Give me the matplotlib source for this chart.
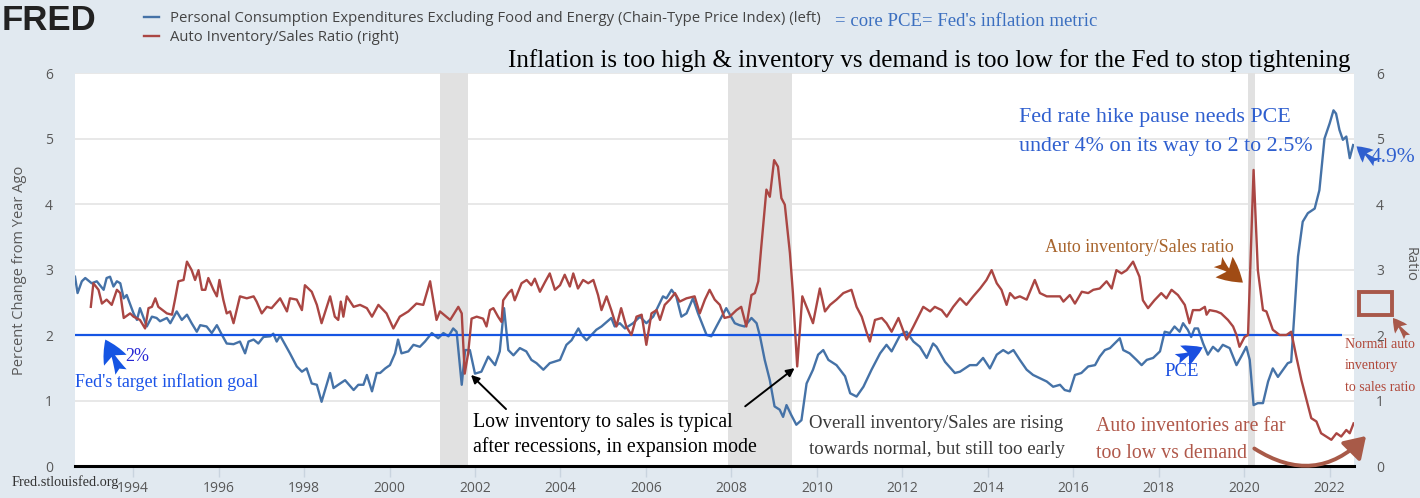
import numpy as np
import matplotlib.pyplot as plt
from matplotlib.patches import Rectangle, FancyArrowPatch

W, H = 1420, 498

# core PCE, % change from a year ago (left axis)
pce_year = [1992.64, 1992.70, 1992.80, 1992.88, 1993.03, 1993.15, 1993.31, 1993.38, 1993.46, 1993.54,
            1993.62, 1993.70, 1993.78, 1993.85, 1994.01, 1994.09, 1994.16, 1994.32, 1994.44, 1994.55,
            1994.63, 1994.79, 1994.87, 1995.02, 1995.14, 1995.26, 1995.37, 1995.49, 1995.57, 1995.72,
            1995.84, 1995.96, 1996.08, 1996.19, 1996.35, 1996.50, 1996.62, 1996.70, 1996.82, 1996.93,
            1997.05, 1997.21, 1997.28, 1997.36, 1997.44, 1997.67, 1997.83, 1997.95, 1998.06, 1998.18,
            1998.30, 1998.41, 1998.61, 1998.69, 1998.80, 1998.96, 1999.16, 1999.27, 1999.39, 1999.47,
            1999.59, 1999.70, 1999.78, 1999.90, 2000.01, 2000.13, 2000.20, 2000.28, 2000.44, 2000.56,
            2000.71, 2000.83, 2000.99, 2001.14, 2001.26, 2001.38, 2001.49, 2001.57, 2001.69, 2001.77,
            2001.88, 2002.00, 2002.15, 2002.31, 2002.47, 2002.58, 2002.68, 2002.78, 2002.90, 2003.05,
            2003.20, 2003.32, 2003.44, 2003.60, 2003.75, 2003.99, 2004.14, 2004.26, 2004.42, 2004.50,
            2004.61, 2004.84, 2004.96, 2005.19, 2005.27, 2005.39, 2005.51, 2005.70, 2005.86, 2006.01,
            2006.17, 2006.40, 2006.48, 2006.60, 2006.71, 2006.83, 2006.95, 2007.10, 2007.22, 2007.42,
            2007.53, 2007.65, 2007.88, 2008.08, 2008.19, 2008.31, 2008.47, 2008.59, 2008.67, 2008.78,
            2008.90, 2009.01, 2009.13, 2009.21, 2009.29, 2009.40, 2009.52, 2009.64, 2009.76, 2009.91,
            2010.03, 2010.15, 2010.27, 2010.46, 2010.66, 2010.78, 2010.93, 2011.09, 2011.28, 2011.48,
            2011.63, 2011.75, 2011.95, 2012.10, 2012.26, 2012.41, 2012.57, 2012.72, 2012.80, 2013.00,
            2013.23, 2013.35, 2013.58, 2013.74, 2013.89, 2014.05, 2014.21, 2014.36, 2014.48, 2014.60,
            2014.75, 2014.91, 2015.06, 2015.22, 2015.38, 2015.53, 2015.69, 2015.80, 2015.92, 2016.04,
            2016.19, 2016.35, 2016.51, 2016.62, 2016.74, 2016.86, 2017.09, 2017.17, 2017.32, 2017.48,
            2017.60, 2017.72, 2017.87, 2018.03, 2018.14, 2018.26, 2018.37, 2018.49, 2018.57, 2018.68,
            2018.76, 2018.84, 2018.92, 2019.04, 2019.15, 2019.27, 2019.39, 2019.50, 2019.66, 2019.82,
            2019.93, 2020.05, 2020.13, 2020.22, 2020.32, 2020.44, 2020.56, 2020.67, 2020.79, 2020.91,
            2021.02, 2021.10, 2021.18, 2021.26, 2021.37, 2021.49, 2021.65, 2021.76, 2021.88, 2022.00,
            2022.09, 2022.15, 2022.23, 2022.31, 2022.39, 2022.47, 2022.55]
pce_val = [2.89, 2.64, 2.82, 2.87, 2.79, 2.82, 2.69, 2.87, 2.89, 2.74,
           2.82, 2.79, 2.56, 2.61, 2.33, 2.23, 2.41, 2.13, 2.28, 2.26,
           2.21, 2.26, 2.18, 2.36, 2.23, 2.31, 2.18, 2.05, 2.15, 2.13,
           2.03, 2.15, 2.00, 1.87, 1.86, 1.90, 1.72, 1.90, 1.93, 1.87,
           1.97, 1.98, 2.02, 1.90, 1.99, 1.72, 1.52, 1.44, 1.49, 1.26,
           1.24, 0.98, 1.42, 1.19, 1.24, 1.31, 1.16, 1.24, 1.24, 1.39,
           1.14, 1.42, 1.42, 1.49, 1.54, 1.72, 1.93, 1.72, 1.75, 1.85,
           1.82, 1.90, 2.03, 1.95, 2.03, 1.98, 2.10, 2.05, 1.24, 1.77,
           1.77, 1.41, 1.44, 1.67, 1.54, 1.75, 2.41, 1.77, 1.69, 1.80,
           1.75, 1.62, 1.57, 1.47, 1.57, 1.62, 1.85, 1.92, 2.10, 2.00,
           1.92, 2.08, 2.13, 2.26, 2.13, 2.18, 2.10, 2.18, 2.28, 2.18,
           2.28, 2.59, 2.56, 2.69, 2.59, 2.28, 2.33, 2.56, 2.33, 2.00,
           1.98, 2.13, 2.41, 2.18, 2.15, 2.13, 2.26, 2.18, 1.98, 1.62,
           1.31, 0.91, 0.86, 0.75, 0.93, 0.78, 0.63, 0.70, 1.26, 1.47,
           1.70, 1.77, 1.62, 1.54, 1.37, 1.11, 1.06, 1.21, 1.47, 1.72,
           1.85, 1.75, 2.00, 2.05, 1.90, 1.82, 1.65, 1.87, 1.82, 1.59,
           1.42, 1.44, 1.54, 1.54, 1.65, 1.49, 1.70, 1.77, 1.72, 1.77,
           1.62, 1.47, 1.39, 1.34, 1.29, 1.21, 1.24, 1.16, 1.14, 1.39,
           1.42, 1.52, 1.54, 1.67, 1.77, 1.80, 1.95, 1.77, 1.72, 1.62,
           1.54, 1.62, 1.65, 1.75, 2.05, 2.03, 2.13, 2.05, 2.18, 2.08,
           1.97, 2.10, 2.10, 1.87, 1.70, 1.82, 1.75, 1.85, 1.80, 1.54,
           1.67, 1.82, 1.62, 0.93, 0.96, 0.96, 1.29, 1.49, 1.36, 1.47,
           1.57, 1.59, 2.38, 3.20, 3.73, 3.86, 3.93, 4.21, 5.00, 5.23,
           5.43, 5.38, 5.13, 4.98, 5.03, 4.70, 4.90]

# auto inventory/sales ratio (right axis)
inv_year = [1993.01, 1993.07, 1993.19, 1993.27, 1993.38, 1993.50, 1993.62, 1993.70, 1993.78, 1993.93,
            1994.01, 1994.16, 1994.28, 1994.36, 1994.44, 1994.52, 1994.59, 1994.79, 1994.91, 1994.98,
            1995.06, 1995.18, 1995.26, 1995.37, 1995.45, 1995.53, 1995.61, 1995.69, 1995.76, 1995.88,
            1995.96, 1996.02, 1996.11, 1996.19, 1996.27, 1996.35, 1996.50, 1996.66, 1996.82, 1996.89,
            1997.01, 1997.13, 1997.24, 1997.44, 1997.60, 1997.67, 1997.83, 1997.95, 1998.02, 1998.18,
            1998.30, 1998.41, 1998.61, 1998.72, 1998.80, 1998.86, 1998.92, 1999.00, 1999.16, 1999.31,
            1999.47, 1999.59, 1999.74, 1999.93, 2000.09, 2000.24, 2000.44, 2000.63, 2000.79, 2000.95,
            2001.10, 2001.18, 2001.42, 2001.61, 2001.69, 2001.76, 2001.84, 2001.92, 2002.04, 2002.19,
            2002.27, 2002.35, 2002.43, 2002.54, 2002.62, 2002.66, 2002.78, 2002.86, 2002.93, 2003.09,
            2003.21, 2003.32, 2003.40, 2003.52, 2003.64, 2003.75, 2003.87, 2003.99, 2004.10, 2004.22,
            2004.30, 2004.41, 2004.53, 2004.65, 2004.77, 2004.88, 2004.96, 2005.08, 2005.19, 2005.31,
            2005.42, 2005.54, 2005.66, 2005.78, 2005.90, 2006.01, 2006.13, 2006.25, 2006.33, 2006.44,
            2006.56, 2006.68, 2006.79, 2006.95, 2007.14, 2007.26, 2007.38, 2007.49, 2007.61, 2007.73,
            2007.84, 2007.96, 2008.12, 2008.23, 2008.35, 2008.47, 2008.55, 2008.63, 2008.70, 2008.82,
            2008.90, 2009.00, 2009.09, 2009.17, 2009.25, 2009.37, 2009.44, 2009.54, 2009.66, 2009.79,
            2009.91, 2010.07, 2010.19, 2010.31, 2010.46, 2010.62, 2010.81, 2010.93, 2011.05, 2011.17,
            2011.24, 2011.36, 2011.52, 2011.63, 2011.75, 2011.91, 2012.10, 2012.26, 2012.49, 2012.65,
            2012.76, 2012.92, 2013.04, 2013.19, 2013.35, 2013.50, 2013.66, 2013.82, 2013.97, 2014.09,
            2014.21, 2014.32, 2014.44, 2014.52, 2014.63, 2014.75, 2014.91, 2015.10, 2015.22, 2015.38,
            2015.53, 2015.69, 2015.77, 2015.92, 2016.04, 2016.20, 2016.35, 2016.47, 2016.62, 2016.78,
            2016.90, 2017.01, 2017.13, 2017.25, 2017.40, 2017.55, 2017.63, 2017.75, 2017.90, 2018.06,
            2018.18, 2018.30, 2018.45, 2018.61, 2018.72, 2018.80, 2018.96, 2019.08, 2019.12, 2019.19,
            2019.35, 2019.46, 2019.62, 2019.74, 2019.82, 2019.89, 2020.01, 2020.09, 2020.22, 2020.32,
            2020.44, 2020.52, 2020.67, 2020.83, 2020.99, 2021.10, 2021.22, 2021.34, 2021.45, 2021.57,
            2021.69, 2021.80, 2021.92, 2022.04, 2022.16, 2022.27, 2022.39, 2022.47, 2022.56]
inv_val = [2.43, 2.79, 2.69, 2.48, 2.54, 2.46, 2.69, 2.64, 2.26, 2.33,
           2.28, 2.23, 2.10, 2.41, 2.43, 2.56, 2.43, 2.33, 2.31, 2.54,
           2.82, 2.84, 3.12, 2.99, 2.84, 2.99, 2.69, 2.69, 2.87, 2.69,
           2.59, 2.84, 2.54, 2.33, 2.36, 2.18, 2.59, 2.56, 2.59, 2.51,
           2.33, 2.43, 2.41, 2.56, 2.36, 2.56, 2.54, 2.38, 2.76, 2.66,
           2.46, 2.18, 2.59, 2.28, 2.23, 2.51, 2.28, 2.59, 2.43, 2.46,
           2.41, 2.28, 2.46, 2.33, 2.10, 2.28, 2.36, 2.48, 2.46, 2.82,
           2.23, 2.36, 2.23, 2.43, 2.33, 1.41, 1.72, 2.25, 2.28, 2.25,
           2.13, 2.38, 2.41, 2.28, 2.20, 2.53, 2.64, 2.69, 2.53, 2.79,
           2.84, 2.76, 2.86, 2.66, 2.81, 2.94, 2.69, 2.76, 2.92, 2.74,
           2.94, 2.71, 2.84, 2.79, 2.84, 2.61, 2.38, 2.59, 2.38, 2.13,
           2.41, 2.13, 2.00, 2.28, 2.31, 1.85, 2.33, 2.38, 2.23, 2.46,
           2.54, 2.64, 2.51, 2.56, 2.59, 2.33, 2.54, 2.69, 2.54, 2.46,
           2.26, 2.28, 2.38, 2.43, 2.13, 2.61, 2.64, 2.82, 3.35, 4.22,
           4.11, 4.67, 4.57, 4.09, 3.99, 3.25, 2.64, 1.52, 2.59, 2.38,
           2.18, 2.71, 2.36, 2.46, 2.54, 2.64, 2.69, 2.43, 2.28, 2.03,
           1.90, 2.23, 2.26, 2.18, 2.05, 2.26, 1.93, 2.13, 2.43, 2.36,
           2.43, 2.38, 2.28, 2.43, 2.56, 2.46, 2.59, 2.71, 2.84, 2.99,
           2.79, 2.69, 2.46, 2.64, 2.56, 2.59, 2.54, 2.84, 2.64, 2.59,
           2.59, 2.59, 2.51, 2.61, 2.48, 2.66, 2.64, 2.69, 2.71, 2.82,
           2.71, 2.99, 2.94, 2.99, 3.12, 2.89, 2.53, 2.41, 2.53, 2.64,
           2.56, 2.69, 2.61, 2.46, 2.18, 2.38, 2.38, 2.43, 2.31, 2.38,
           2.36, 2.33, 2.23, 2.13, 2.00, 1.82, 1.97, 2.00, 4.52, 2.99,
           2.38, 2.36, 2.08, 2.00, 2.00, 2.05, 1.67, 1.31, 1.03, 0.73,
           0.68, 0.50, 0.45, 0.40, 0.50, 0.45, 0.55, 0.50, 0.65]

recessions = [(2001.17, 2001.84), (2007.92, 2009.42), (2020.08, 2020.25)]
fed_target = 2.0
target_end = 2022.30
year_ticks = list(range(1994, 2023, 2))
axis_ticks = [0, 1, 2, 3, 4, 5, 6]

BG = '#e1e9f0'
SERIF = 'Liberation Serif'
FAT = 'fancy,head_length=0.55,head_width=0.6,tail_width=0.3'
plt.rcParams['font.family'] = ['Open Sans', 'DejaVu Sans']


def fp(x, y):
    # pixel position in the picture -> figure fraction
    return (x / W, 1 - y / H)


def fat_arrow(tip, tail, color, size, on=None):
    # filled arrow from a tail (picture pixels) to a tip (data coords of `on`, or picture pixels)
    if on is not None:
        return on.annotate('', xy=tip, xycoords='data', xytext=fp(*tail),
                           textcoords='figure fraction', annotation_clip=False,
                           arrowprops=dict(arrowstyle=FAT, color=color, mutation_scale=size,
                                           lw=0, shrinkA=0, shrinkB=0))
    return fig.add_artist(FancyArrowPatch(fp(*tail), fp(*tip), transform=fig.transFigure,
                                          arrowstyle=FAT, mutation_scale=size, lw=0,
                                          color=color, shrinkA=0, shrinkB=0))


fig = plt.figure(figsize=(W / 100, H / 100), dpi=100, facecolor=BG)
ax = fig.add_axes([75 / W, 1 - 466 / H, (1354 - 75) / W, (466 - 73) / H])
ax.set_facecolor('white')
ax2 = ax.twinx()

for a, b in recessions:
    ax.axvspan(a, b, color='#e1e1e1', lw=0, zorder=1)

pce_line, = ax.plot(pce_year, pce_val, color='#4572a7', lw=1.7, zorder=3)
ax.hlines(fed_target, 1992.64, target_end, color='#1555e3', lw=1.6, zorder=4)
inv_line, = ax2.plot(inv_year, inv_val, color='#aa4643', lw=1.7, zorder=3)

for a_ in (ax, ax2):
    a_.set_xlim(1992.64, 2022.57)
    a_.set_ylim(0, 6)
    a_.set_yticks(axis_ticks)
    for s in a_.spines.values():
        s.set_visible(False)
    a_.tick_params(axis='y', length=0, labelsize=10, labelcolor='#595959', pad=16)

ax.spines['bottom'].set_visible(True)
ax.spines['bottom'].set_color('black')
ax.spines['bottom'].set_linewidth(2.2)
ax.spines['bottom'].set_zorder(5)
ax.set_xticks(year_ticks)
ax.set_xticklabels([str(y) for y in year_ticks])
ax.tick_params(axis='x', length=8, width=1, color='#c9d4df', labelsize=10,
               labelcolor='#595959', pad=3)
ax.grid(axis='y', color='#e8e8e8', lw=1.4, zorder=0)
ax.set_axisbelow(True)

fig.text(*fp(20, 270), 'Percent Change from Year Ago', rotation=90, ha='center', va='center',
         fontsize=10.5, color='#595959')
fig.text(*fp(1410, 264), 'Ratio', rotation=270, ha='center', va='center',
         fontsize=10.5, color='#595959')

# header: logo + legend
fig.text(*fp(2, 21), 'FRED', fontsize=25, fontweight='black', family='Liberation Sans',
         ha='left', va='center', color='#222222')
fig.legend([pce_line, inv_line],
           ['Personal Consumption Expenditures Excluding Food and Energy (Chain-Type Price Index) (left)',
            'Auto Inventory/Sales Ratio (right)'],
           loc='upper left', bbox_to_anchor=fp(144, 11), frameon=False, fontsize=10.7,
           handlelength=1.0, handletextpad=0.75, labelspacing=0.3, borderpad=0,
           borderaxespad=0, labelcolor='#444444')
fig.text(*fp(835, 21), "= core PCE= Fed's inflation metric", family=SERIF, fontsize=13.5,
         color='#3b6fc0', ha='left', va='center')
fig.text(*fp(929, 61), 'Inflation is too high & inventory vs demand is too low for the Fed to stop tightening',
         family=SERIF, fontsize=18, color='black', ha='center', va='center')

# annotations
fat_arrow((1993.35, 1.93), (121, 372), '#1555e3', 30, ax)
fig.text(*fp(125, 356), '2%', family=SERIF, fontsize=13, color='#2626d4', ha='left', va='center')
fig.text(*fp(75, 382), "Fed's target inflation goal", family=SERIF, fontsize=13, color='#1a53e8',
         ha='left', va='center')

fig.text(*fp(473, 422), 'Low inventory to sales is typical', family=SERIF, fontsize=14.3,
         color='black', ha='left', va='center')
fig.text(*fp(473, 447), 'after recessions, in expansion mode', family=SERIF, fontsize=14.3,
         color='black', ha='left', va='center')
ax.annotate('', xy=(2001.86, 1.42), xytext=fp(508, 411), textcoords='figure fraction',
            arrowprops=dict(arrowstyle='-|>', color='black', lw=1.4, mutation_scale=12))
ax.annotate('', xy=(2009.53, 1.52), xytext=fp(743, 408), textcoords='figure fraction',
            arrowprops=dict(arrowstyle='-|>', color='black', lw=1.4, mutation_scale=12))
fig.text(*fp(809, 423), 'Overall inventory/Sales are rising', family=SERIF, fontsize=13.6,
         color='#3a3a3a', ha='left', va='center')
fig.text(*fp(809, 449), 'towards normal, but still too early', family=SERIF, fontsize=13.6,
         color='#3a3a3a', ha='left', va='center')

fig.text(*fp(1019, 117), 'Fed rate hike pause needs PCE', family=SERIF, fontsize=15.8,
         color='#2f5fcf', ha='left', va='center')
fig.text(*fp(1019, 146), 'under 4% on its way to 2 to 2.5%', family=SERIF, fontsize=15.8,
         color='#2f5fcf', ha='left', va='center')
fig.text(*fp(1371, 158), '4.9%', family=SERIF, fontsize=15.5, color='#2f5fcf',
         ha='left', va='center')
fat_arrow((2022.63, 4.88), (1376, 163), '#2f5fcf', 20, ax)

fig.text(*fp(1045, 248), 'Auto inventory/Sales ratio', family=SERIF, fontsize=12.9,
         color='#a8642c', ha='left', va='center')
fat_arrow((2019.97, 2.80), (1218, 262), '#a04b14', 32, ax2)

fig.text(*fp(1164, 371), 'PCE', family=SERIF, fontsize=13.5, color='#1a4fe0', ha='left', va='center')
fat_arrow((2019.03, 1.81), (1177, 359), '#1a4fe0', 26, ax)

fig.text(*fp(1096, 426), 'Auto inventories are far', family=SERIF, fontsize=14.3,
         color='#b0584a', ha='left', va='center')
fig.text(*fp(1096, 453), 'too low vs demand', family=SERIF, fontsize=14.3,
         color='#b0584a', ha='left', va='center')
fig.add_artist(FancyArrowPatch(
    fp(1252, 447), fp(1368, 434), transform=fig.transFigure,
    connectionstyle='arc3,rad=0.42', arrowstyle='-|>,head_length=0.7,head_width=0.45',
    mutation_scale=18, lw=2.8, color='#a85a48'))

fig.add_artist(Rectangle(fp(1359, 315), 33 / W, 23 / H, transform=fig.transFigure,
                         fill=False, ec='#a8584a', lw=2.8))
fat_arrow((1393, 318), (1407, 337), '#a8584a', 18)
fig.text(*fp(1345, 344), 'Normal auto', family=SERIF, fontsize=10, color='#b0483a',
         ha='left', va='center')
fig.text(*fp(1345, 365), 'inventory', family=SERIF, fontsize=10, color='#b0483a',
         ha='left', va='center')
fig.text(*fp(1345, 387), 'to sales ratio', family=SERIF, fontsize=10, color='#b0483a',
         ha='left', va='center')

fig.text(*fp(12, 482), 'Fred.stlouisfed.org', family=SERIF, fontsize=10.3, color='#333333',
         ha='left', va='center')

fig.savefig('out.png', dpi=100, facecolor=BG)
